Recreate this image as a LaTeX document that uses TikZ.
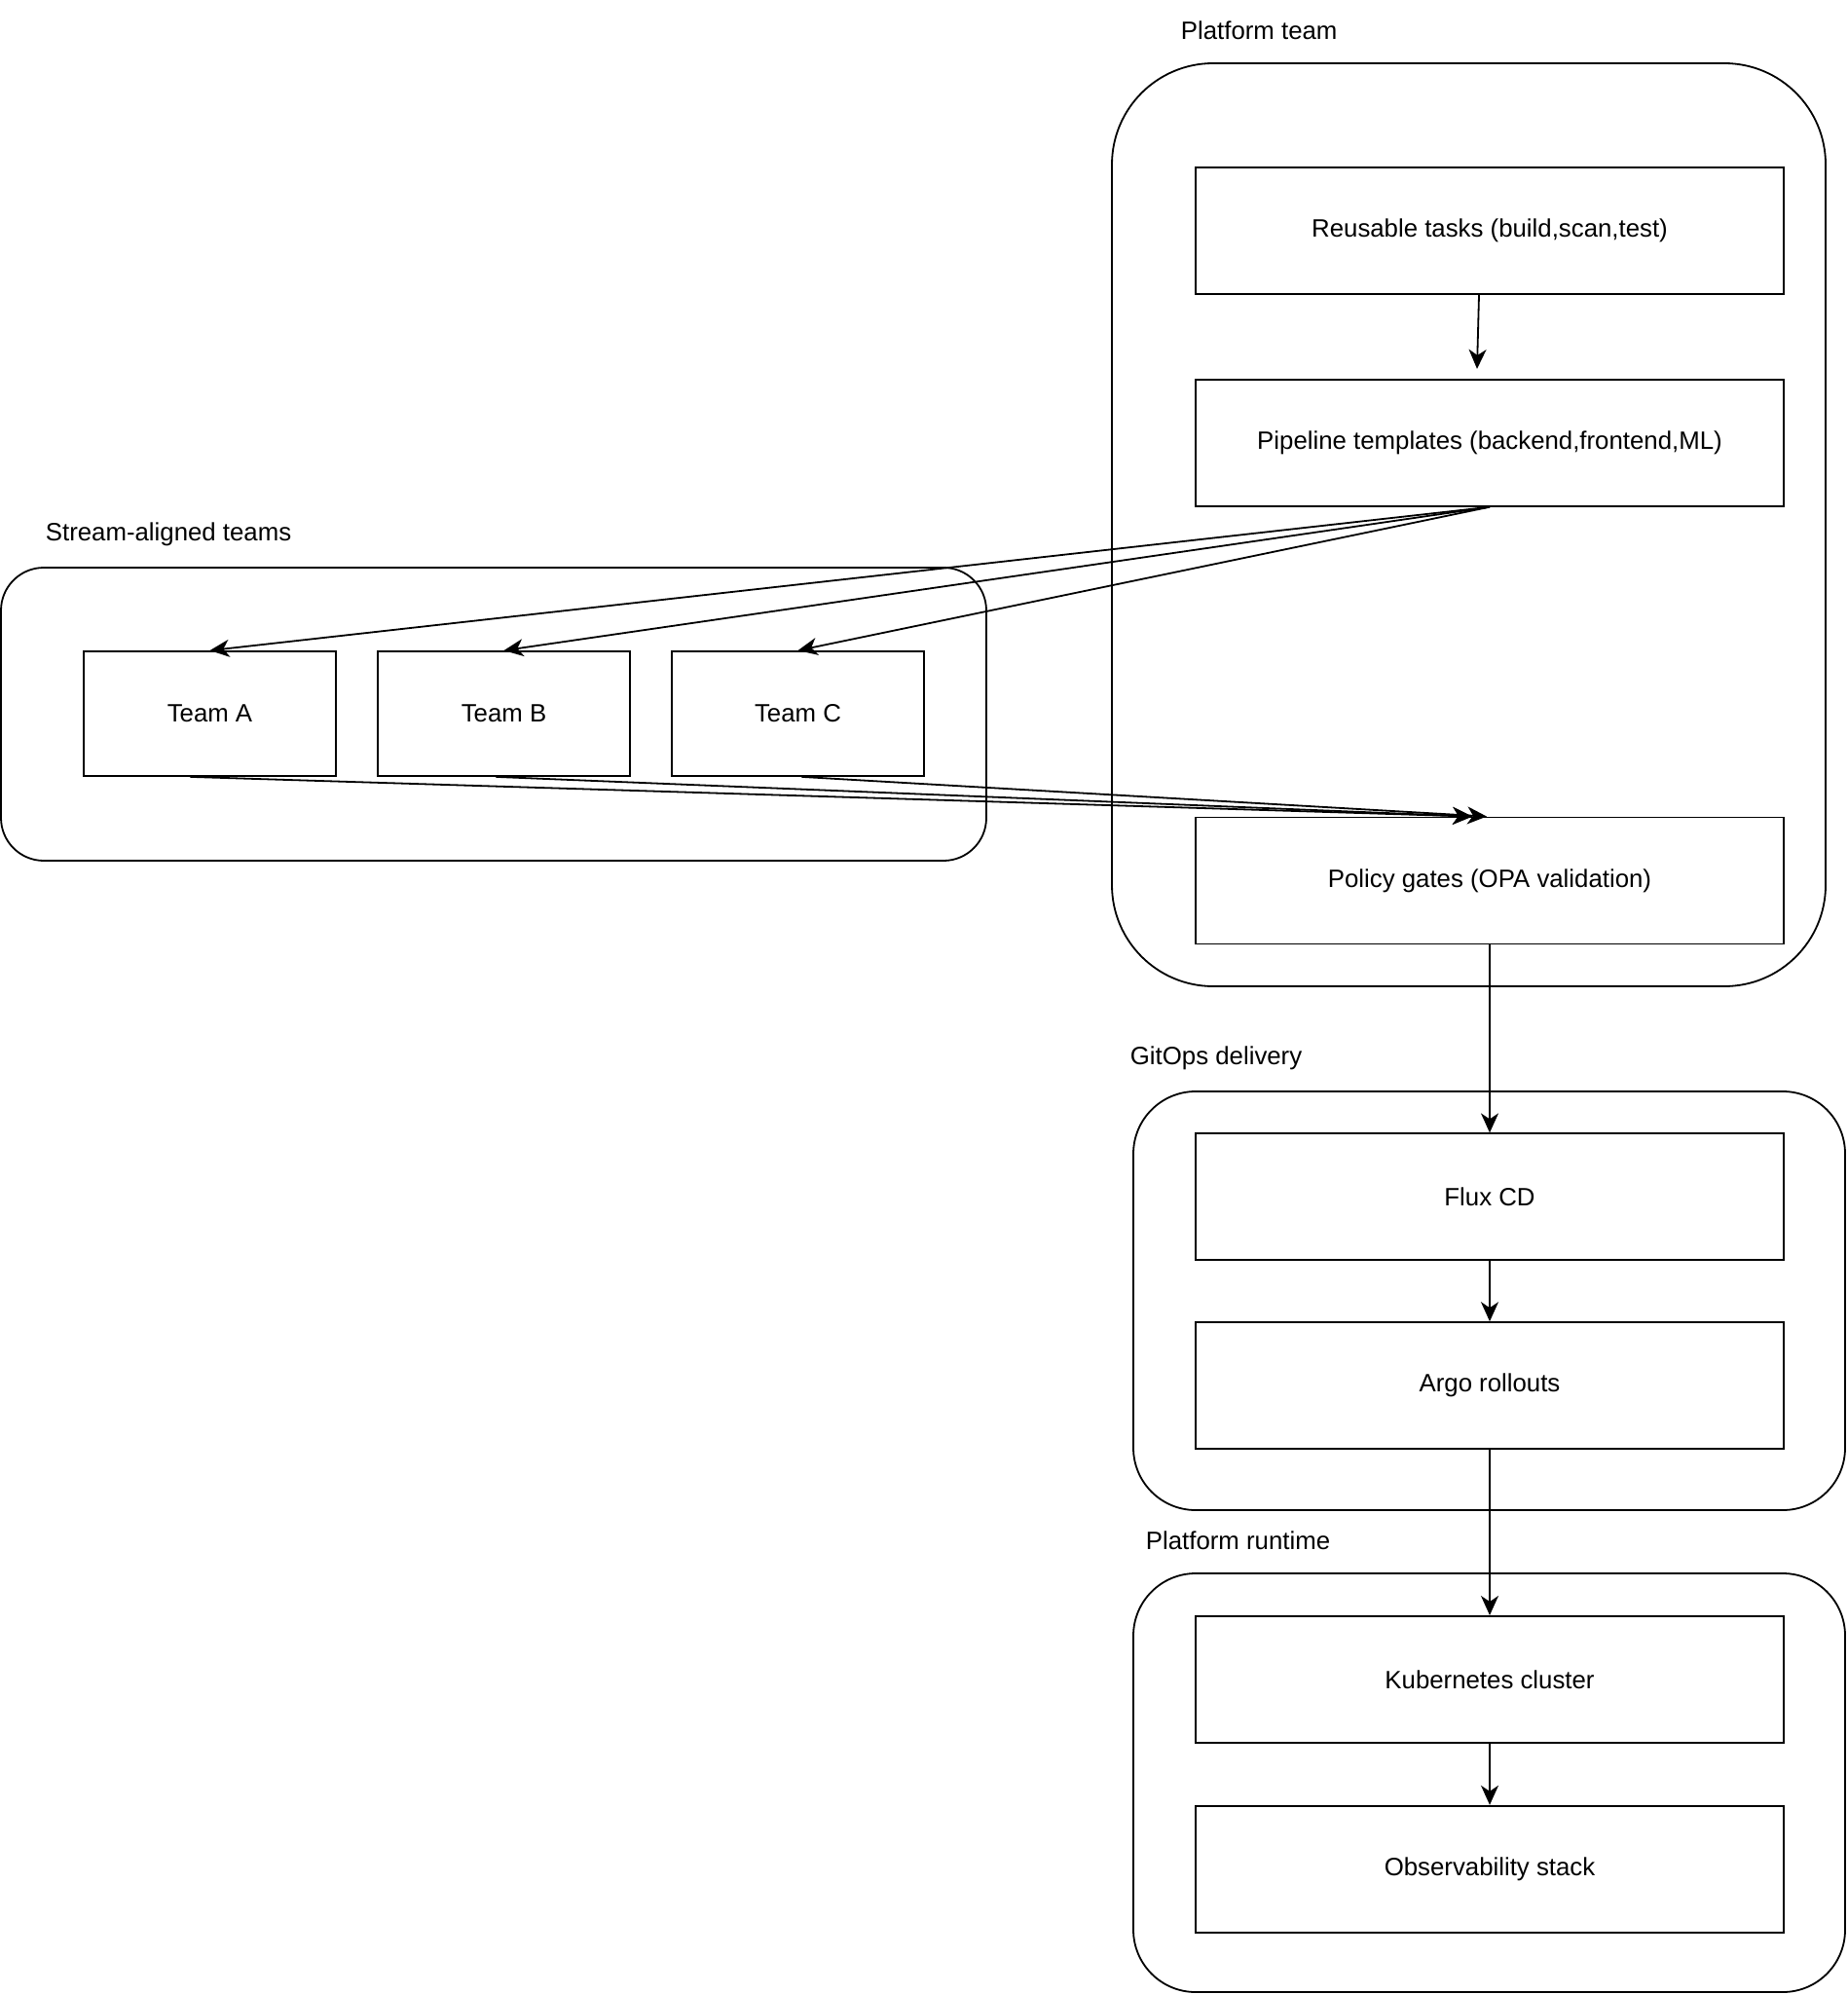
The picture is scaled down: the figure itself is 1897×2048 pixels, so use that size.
\documentclass[tikz,border=0pt]{standalone}
\usepackage{fontspec}
\setmainfont{Liberation Sans}
\usetikzlibrary{positioning, arrows.meta}
\tikzset{
    >={Stealth[length=10pt, width=9pt, inset=3pt]}, % drawio style heads
    every node/.style={font=\fontsize{12.9pt}{15pt}\selectfont}, % Arial-like text
    box/.style={draw, minimum width=302pt, minimum height=65pt, inner sep=0pt}, % one step
    teambox/.style={draw, minimum width=129.5pt, minimum height=64pt, inner sep=0pt},
    group/.style={draw, rounded corners=#1, inner sep=0pt}, % the big frames
    title/.style={anchor=west, inner sep=0pt},
    flow/.style={->, line width=0.9pt},
}
\begin{document}
\begin{tikzpicture}[x=0.5pt, y=-0.5pt, line width=0.9pt]
\useasboundingbox (0,0) rectangle (1897,2048);
% frames
\node[group=52pt, minimum width=366.5pt, minimum height=474pt] (platform) at (1508.5,539) {};
\node[group=22pt, minimum width=506pt, minimum height=150.5pt] (stream) at (507,733.5) {};
\node[group=32pt, minimum width=365.5pt, minimum height=215pt] (gitops) at (1529.5,1336) {};
\node[group=32pt, minimum width=365.5pt, minimum height=215pt] (runtime) at (1529.5,1831) {};
\node[title] (tplatform) at (1212,31) {Platform team};
\node[title] (tstream) at (46,549) {Stream-aligned teams};
\node[title] (tgitops) at (1160,1087) {GitOps delivery};
\node[title] (truntime) at (1176,1582) {Platform runtime};
% steps
\node[box] (reuse) at (1530,237) {Reusable tasks (build,scan,test)};
\node[box, below=43pt of reuse] (pipe) {Pipeline templates (backend,frontend,ML)};
\node[box] (policy) at (1530,904.5) {Policy gates (OPA validation)};
\node[box, below=96.5pt of policy] (flux) {Flux CD};
\node[box, below=31pt of flux] (argo) {Argo rollouts};
\node[box, below=85pt of argo] (kube) {Kubernetes cluster};
\node[box, below=31.5pt of kube] (obs) {Observability stack};
\node[teambox] (teamA) at (215.5,733) {Team A};
\node[teambox, right=20.6pt of teamA] (teamB) {Team B};
\node[teambox, right=20.6pt of teamB] (teamC) {Team C};
% connectors
\draw[flow] ([xshift=-5.5pt]reuse.south) -- ([xshift=-6.5pt,yshift=5pt]pipe.north);
\foreach \t in {teamA,teamB,teamC}
    \draw[flow] (pipe.south) -- (\t.north);
\draw[flow] ([xshift=-10pt]teamA.south) -- ([xshift=-9pt]policy.north);
\draw[flow] ([xshift=-4pt]teamB.south) -- ([xshift=-9pt]policy.north);
\draw[flow] ([xshift=2pt]teamC.south) -- ([xshift=-1.5pt]policy.north);
\draw[flow] (policy) -- (flux);
\draw[flow] (flux) -- (argo);
\draw[flow] (argo) -- (kube);
\draw[flow] (kube) -- (obs);
\end{tikzpicture}
\end{document}
